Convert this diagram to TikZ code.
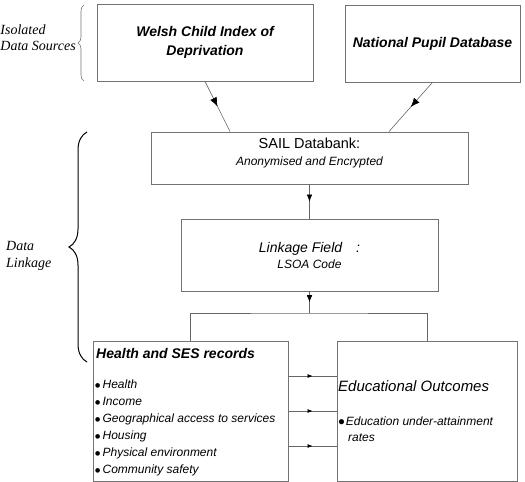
\documentclass[tikz,border=0pt]{standalone}
\usepackage{fontspec}
\setmainfont{Liberation Sans}
\newfontfamily\serifit{Liberation Serif}
\usetikzlibrary{positioning,arrows.meta,calc,decorations.markings,decorations.pathreplacing}

\newcommand{\listdot}{\raisebox{-2.5pt}{\fontsize{17}{17}\selectfont\textbullet}}

\begin{document}
\begin{tikzpicture}[x=1pt,y=-1pt,
  box/.style={draw=black!55, line width=0.7pt, align=center, inner sep=0pt},
  conn/.style={draw=black!60, line width=0.6pt},
  midtip/.style={conn, postaction={decorate}, decoration={markings, mark=at position 0.5 with {\arrow{Latex[length=#1, width'=0pt 0.8, black]}}}},
  midtip/.default=7pt,
  bracelabel/.style={font=\serifit\itshape\fontsize{14}{16}\selectfont, align=left, inner sep=0pt}
]

  \useasboundingbox (0,0) rectangle (525,482);

  % isolated sources
  \node[box, minimum width=216pt, minimum height=77pt, font=\bfseries\itshape\fontsize{14}{19}\selectfont] (welsh) at (205,42.5) {Welsh Child Index of\\Deprivation};
  \node[box, minimum width=175pt, minimum height=77pt, font=\bfseries\itshape\fontsize{14}{17}\selectfont] (npd) at (432.5,43.5) {National Pupil Database};

  % linkage
  \node[box, minimum width=317pt, minimum height=52pt] (sail) at (309.5,158) {};
  \node[inner sep=0pt, font=\fontsize{14.5}{18}\selectfont] (sailtitle) at (309.5,143) {SAIL Databank:};
  \node[inner sep=0pt, font=\itshape\fontsize{12}{15}\selectfont] (sailsub) at (309.5,162) {Anonymised and Encrypted};
  \node[box, minimum width=257pt, minimum height=72pt] (link) at (309.5,255) {{\itshape\fontsize{14}{17}\selectfont Linkage Field\quad:}\\[4pt]{\itshape\fontsize{12}{15}\selectfont LSOA Code}};

  % records and outcomes
  \node[box, minimum width=195pt, minimum height=140pt] (hses) at (190.5,411) {};
  \node[box, minimum width=180pt, minimum height=140pt] (edu) at (427,411) {};

  \node[anchor=west, inner sep=0pt, font=\bfseries\itshape\fontsize{14}{17}\selectfont] (hsestitle) at (96,353) {Health and SES records};
  \node[anchor=north west, align=left, inner sep=0pt, font=\itshape\fontsize{12}{17}\selectfont] (hseslist) at (94.5,380) {\listdot\hspace{2pt}Health\\
    \listdot\hspace{2pt}Income\\
    \listdot\hspace{2pt}Geographical access to services\\
    \listdot\hspace{2pt}Housing\\
    \listdot\hspace{2pt}Physical environment\\
    \listdot\hspace{2pt}Community safety};

  \node[anchor=west, inner sep=0pt, font=\itshape\fontsize{15}{18}\selectfont] (edutitle) at (338,386) {Educational Outcomes};
  \node[anchor=north west, align=left, inner sep=0pt, font=\itshape\fontsize{12}{16}\selectfont] (eduitem) at (338,417) {\raisebox{-3pt}{\fontsize{19}{16}\selectfont\textbullet}\hspace{1pt}Education under-attainment\\\hspace*{10pt}rates};

  % connectors
  \coordinate (split) at (309.5,313);
  \draw[midtip=9pt] (welsh.south) -- ($(sail.north west)!0.25!(sail.north east)$);
  \draw[midtip=9pt] (npd.south) -- ($(sail.north west)!0.75!(sail.north east)$);
  \draw[midtip] (sail) -- (link);
  \draw[midtip] (link) -- (split);
  \draw[conn] (hses.north) |- (split) -| (edu.north);
  \draw[midtip=5pt] ([yshift=35pt]hses.east) -- ([yshift=35pt]edu.west);
  \draw[midtip=5pt] (hses) -- (edu);
  \draw[midtip=5pt] ([yshift=-35pt]hses.east) -- ([yshift=-35pt]edu.west);

  % braces
  \draw[draw=black!55, line width=0.6pt, decorate, decoration={brace, amplitude=6pt}] (84,81) -- (84,5);
  \draw[line width=1pt, decorate, decoration={brace, amplitude=18pt}] (87,362) -- (87,132);
  \node[bracelabel, anchor=east] (isolated) at (76,38) {Isolated\\Data Sources};
  \node[bracelabel, anchor=west, font=\serifit\itshape\fontsize{14}{17}\selectfont] (datalink) at (6,255.5) {Data\\Linkage};

\end{tikzpicture}
\end{document}
